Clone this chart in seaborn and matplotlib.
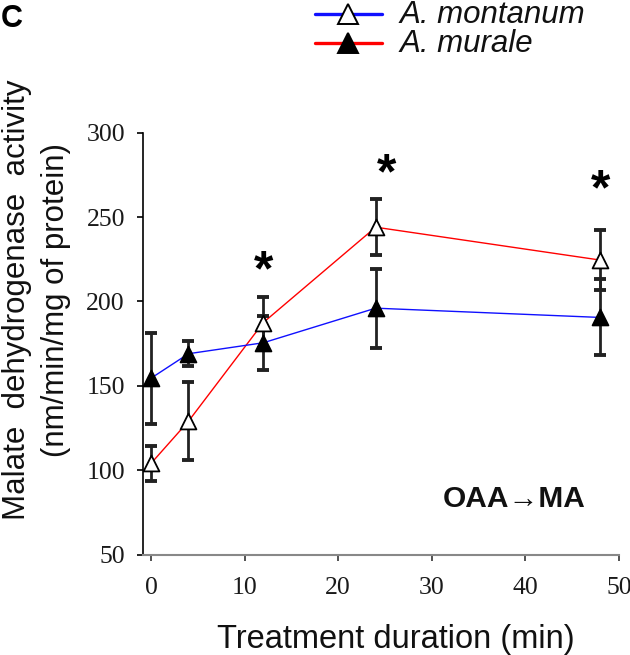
import numpy as np
import pandas as pd
import matplotlib
matplotlib.use("Agg")
import matplotlib.pyplot as plt
from matplotlib.lines import Line2D
import seaborn as sns

# ---- data ----
time_min = [0, 4, 12, 24, 48]
montanum_mean = [104, 129, 187.5, 244, 224.5]   # open triangles
montanum_err = [10.5, 23, 15, 16.5, 18]
murale_mean = [154.5, 169, 175.5, 196, 190.5]    # filled triangles
murale_err = [27, 7.5, 16, 23.5, 22.5]
star_x = [12, 25.2, 48]
star_y = [217.5, 274.5, 265]
x_ticks = [0, 10, 20, 30, 40, 50]
y_ticks = [50, 100, 150, 200, 250, 300]
species = ["A. montanum", "A. murale"]

sns.set_style("ticks")
plt.rcParams["font.family"] = ["Liberation Sans", "DejaVu Sans"]

W, H = 630, 655
fig = plt.figure(figsize=(W / 100, H / 100), dpi=100)
ax_l, ax_r, ax_t, ax_b = 143, 619, 132.7, 554.5
ax = fig.add_axes([ax_l / W, 1 - ax_b / H, (ax_r - ax_l) / W, (ax_b - ax_t) / H])

df = pd.DataFrame({
    "time": time_min * 2,
    "activity": montanum_mean + murale_mean,
    "species": [species[0]] * len(time_min) + [species[1]] * len(time_min),
})

# lines (as drawn in the figure: red joins open triangles, blue joins filled)
sns.lineplot(data=df, x="time", y="activity", hue="species",
             palette={species[0]: "#ff0000", species[1]: "#1010ff"},
             linewidth=1.0, legend=False, ax=ax, zorder=2)

# error bars
for m, e in [(montanum_mean, montanum_err), (murale_mean, murale_err)]:
    ax.errorbar(time_min, m, yerr=e, fmt="none", ecolor="#222222",
                elinewidth=2.0, capsize=4.6, capthick=2.8, zorder=3)

# markers
sns.scatterplot(x=time_min, y=montanum_mean, marker="^", s=130, color="white",
                edgecolor="black", linewidth=1.3, ax=ax, zorder=4, legend=False)
sns.scatterplot(x=time_min, y=murale_mean, marker="^", s=130, color="black",
                edgecolor="black", linewidth=1.3, ax=ax, zorder=4, legend=False)

for sx, sy in zip(star_x, star_y):
    ax.text(sx, sy, "*", ha="center", va="center", fontsize=36,
            fontweight="bold", color="black", family=["Liberation Sans", "DejaVu Sans"])

ax.set_xlim(-0.86, 50)
ax.set_ylim(50, 300)
ax.set_xticks(x_ticks)
ax.set_yticks(y_ticks)
ax.set_xticklabels([str(v) for v in x_ticks])
ax.set_yticklabels([str(v) for v in y_ticks])
ax.tick_params(axis="x", direction="out", length=4, width=1.2, pad=12, colors="#333333")
ax.tick_params(axis="y", direction="out", length=4, width=1.2, pad=9, colors="black")
for lab in ax.get_xticklabels() + ax.get_yticklabels():
    lab.set_family(["Liberation Serif", "DejaVu Serif"])
    lab.set_fontsize(18.5)
    lab.set_color("#1a1a1a")
sns.despine(ax=ax)
ax.spines["left"].set_color("black")
ax.spines["left"].set_linewidth(1.2)
ax.spines["bottom"].set_color("#888888")
ax.spines["bottom"].set_linewidth(1.5)
ax.set_xlabel("")
ax.set_ylabel("")
ax.set_facecolor("none")

# axis titles
fig.text(395.5 / W, 1 - 648 / H, "Treatment duration (min)", ha="center",
         va="baseline", fontsize=23.5, color="#111111")
fig.text(25 / W, 1 - 300 / H, "Malate  dehydrogenase  activity", rotation=90,
         rotation_mode="anchor", ha="center", va="baseline", fontsize=22.5, color="#111111")
fig.text(64 / W, 1 - 300 / H, "(nm/min/mg of protein)", rotation=90,
         rotation_mode="anchor", ha="center", va="baseline", fontsize=22.5, color="#111111")

# inset label
fig.text(443 / W, 1 - 507 / H, "OAA\u2192MA", ha="left", va="baseline",
         fontsize=21.5, fontweight="bold", color="#111111")

# panel letter
fig.text(1 / W, 1 - 27 / H, "C", ha="left", va="baseline", fontsize=22,
         fontweight="bold", color="black")

# legend (line colours / marker fills as in the original key)
rows = [(14, "#1010ff", "white", species[0]), (43, "#ff0000", "black", species[1])]
for ry, lc, mfc, lab in rows:
    fy = 1 - ry / H
    fig.add_artist(Line2D([315 / W, 382 / W], [fy, fy], color=lc, linewidth=2.4,
                          transform=fig.transFigure))
    fig.add_artist(Line2D([348 / W], [fy], marker="^", markersize=14.5,
                          markerfacecolor=mfc, markeredgecolor="black",
                          markeredgewidth=1.4, linestyle="none",
                          transform=fig.transFigure))
    fig.text(400 / W, 1 - (ry + 9) / H, lab, ha="left", va="baseline",
             fontsize=22.5, fontstyle="italic", color="#111111")

fig.savefig("out.png", dpi=100)
